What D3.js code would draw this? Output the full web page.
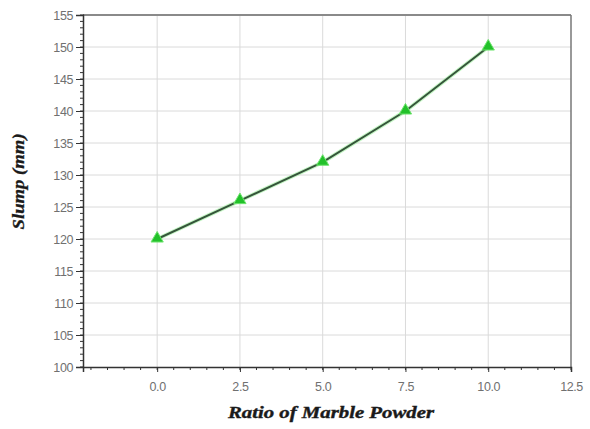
<!DOCTYPE html>
<html>
<head>
<meta charset="utf-8">
<script src="https://cdn.jsdelivr.net/npm/d3@7"></script>
<style>
  body { margin: 0; background: #fff; }
  svg { display: block; }
</style>
</head>
<body>
<div id="chart"></div>
<script>
// data
var ratio = [0, 2.5, 5, 7.5, 10]
var slump = [120, 126, 132, 140, 150]
var xTicks = [0, 2.5, 5, 7.5, 10, 12.5]
var yTicks = [100, 105, 110, 115, 120, 125, 130, 135, 140, 145, 150, 155]

var W = 590, H = 429
var margin = {top: 15, right: 19, bottom: 62, left: 83}
var width = W - margin.left - margin.right,
    height = H - margin.top - margin.bottom

var svg = d3.select("#chart").append("svg")
    .attr("width", W).attr("height", H)
  .append("g")
    .attr("transform", "translate(" + margin.left + "," + margin.top + ")")

var x = d3.scaleLinear().domain([-2.24, 12.5]).range([0, width])
var y = d3.scaleLinear().domain([100, 155]).range([height, 0])

//* grid
svg.selectAll(".gx").data(xTicks.slice(0, -1)).enter().append("line")
    .attr("x1", function(d){ return x(d) }).attr("x2", function(d){ return x(d) })
    .attr("y1", 0).attr("y2", height)
    .attr("stroke", "#dadada").attr("stroke-width", 1)
svg.selectAll(".gy").data(yTicks.slice(1, -1)).enter().append("line")
    .attr("x1", 0).attr("x2", width)
    .attr("y1", function(d){ return y(d) }).attr("y2", function(d){ return y(d) })
    .attr("stroke", "#dadada").attr("stroke-width", 1)

//* frame top / right
svg.append("line").attr("x1", 0).attr("x2", width).attr("y1", 0).attr("y2", 0)
    .attr("stroke", "#8a8a8a").attr("stroke-width", 2)
svg.append("line").attr("x1", width).attr("x2", width).attr("y1", 0).attr("y2", height)
    .attr("stroke", "#777").attr("stroke-width", 1.5)

//* minor ticks
var xMinor = d3.range(-2, 12.51, 0.5)
svg.selectAll(".mx").data(xMinor).enter().append("line")
    .attr("x1", function(d){ return x(d) }).attr("x2", function(d){ return x(d) })
    .attr("y1", height).attr("y2", height + 3)
    .attr("stroke", "#333")
var yMinor = d3.range(100, 155.5, 1)
svg.selectAll(".my").data(yMinor).enter().append("line")
    .attr("x1", -3).attr("x2", 1)
    .attr("y1", function(d){ return y(d) }).attr("y2", function(d){ return y(d) })
    .attr("stroke", "#333")

//* axes
var xAxis = svg.append("g").attr("transform", "translate(0," + height + ")")
    .call(d3.axisBottom(x).tickValues(xTicks).tickFormat(d3.format(".1f")).tickSize(5).tickPadding(10))
var yAxis = svg.append("g")
    .call(d3.axisLeft(y).tickValues(yTicks).tickSize(7).tickPadding(3))

;[xAxis, yAxis].forEach(function(a){
  a.select(".domain").attr("stroke", "#333").attr("stroke-width", 1.5)
  a.selectAll(".tick line").attr("stroke", "#333")
  a.selectAll("text").attr("fill", "#707070").attr("font-family", "Liberation Sans, Arial, sans-serif")
    .attr("font-size", "12.5px").attr("letter-spacing", "-0.4px")
})

//* line + markers
var pts = ratio.map(function(r, i){ return [r, slump[i]] })
var line = d3.line().x(function(d){ return x(d[0]) }).y(function(d){ return y(d[1]) })
svg.append("path").datum(pts)
    .attr("d", line)
    .attr("fill", "none")
    .attr("stroke", "#9ef09e").attr("stroke-width", 4).attr("opacity", 0.6)
svg.append("path").datum(pts)
    .attr("d", line)
    .attr("fill", "none")
    .attr("stroke", "#35553a").attr("stroke-width", 2)

var tri = d3.symbol().type(d3.symbolTriangle).size(65)
svg.selectAll(".mk").data(pts).enter().append("path")
    .attr("d", tri)
    .attr("transform", function(d){ return "translate(" + x(d[0]) + "," + (y(d[1]) - 0.5) + ")" })
    .attr("fill", "#22c12a")
    .attr("stroke", "#6fe46f").attr("stroke-width", 1)

//* titles
svg.append("text")
    .attr("x", 331 - margin.left).attr("y", height + 51)
    .attr("text-anchor", "middle")
    .attr("font-family", "Liberation Serif, Times New Roman, serif")
    .attr("font-weight", "bold").attr("font-style", "italic")
    .attr("font-size", "17px").attr("fill", "#1a1a1a")
    .attr("stroke", "#1a1a1a").attr("stroke-width", 0.4)
    .attr("textLength", 206).attr("lengthAdjust", "spacingAndGlyphs")
    .text("Ratio of Marble Powder")
svg.append("text")
    .attr("transform", "translate(" + (-59) + "," + (y(129)) + ") rotate(-90)")
    .attr("text-anchor", "middle")
    .attr("font-family", "Liberation Serif, Times New Roman, serif")
    .attr("font-weight", "bold").attr("font-style", "italic")
    .attr("font-size", "16px").attr("fill", "#1a1a1a")
    .attr("stroke", "#1a1a1a").attr("stroke-width", 0.3)
    .attr("textLength", 96).attr("lengthAdjust", "spacingAndGlyphs")
    .text("Slump (mm)")
</script>
</body>
</html>
